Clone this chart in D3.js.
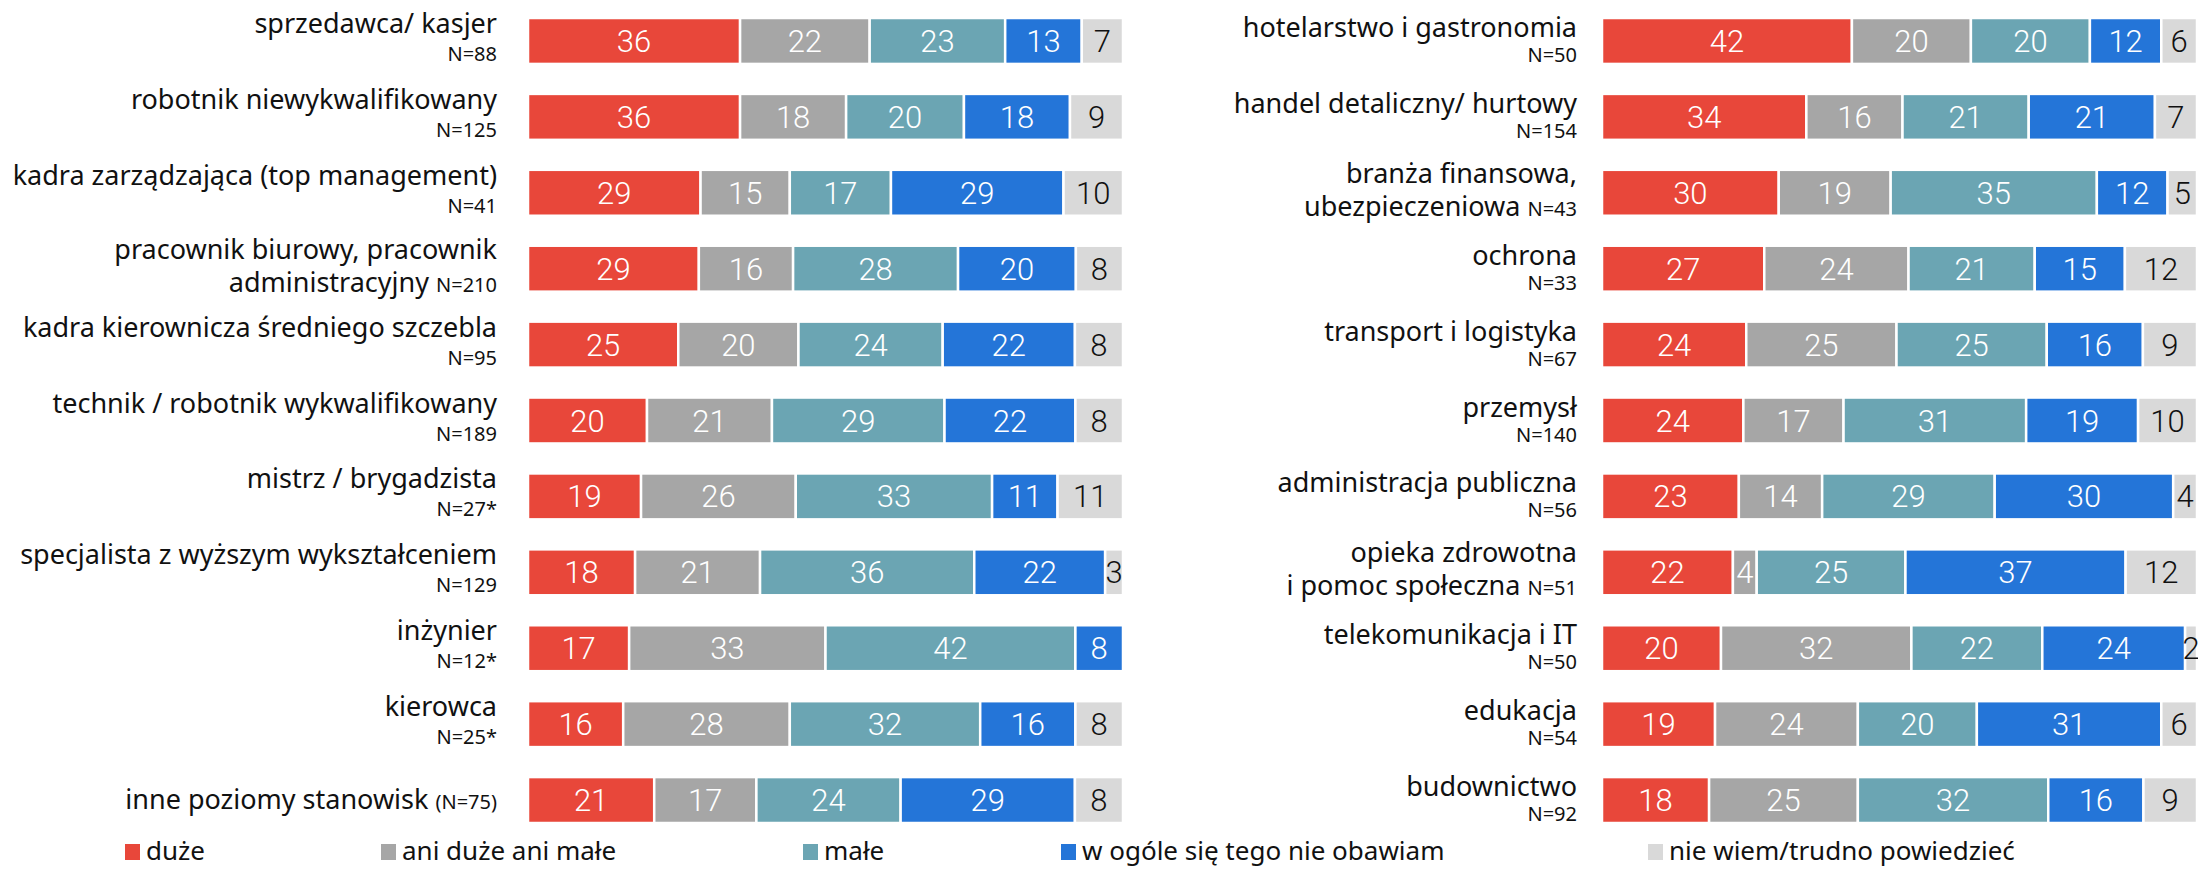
<!DOCTYPE html>
<html>
<head>
<meta charset="utf-8">
<script src="https://cdn.jsdelivr.net/npm/d3@7"></script>
<style>
  body { margin: 0; background: #fff; }
  svg text { font-family: "Noto Sans", sans-serif; }
</style>
</head>
<body>
<div id="chart"></div>
<script>
// series
const seriesKeys = ['duze', 'ani', 'male', 'wogole', 'niewiem'];
const seriesNames = ['duże', 'ani duże ani małe', 'małe', 'w ogóle się tego nie obawiam', 'nie wiem/trudno powiedzieć'];
const seriesColors = ['#e8473a', '#a6a6a6', '#6ba5b3', '#2475d8', '#d9d9d9'];

// left panel: job position
const leftLabels = [
    ['sprzedawca/ kasjer'],
    ['robotnik niewykwalifikowany'],
    ['kadra zarządzająca (top management)'],
    ['pracownik biurowy, pracownik', 'administracyjny'],
    ['kadra kierownicza średniego szczebla'],
    ['technik / robotnik wykwalifikowany'],
    ['mistrz / brygadzista'],
    ['specjalista z wyższym wykształceniem'],
    ['inżynier'],
    ['kierowca'],
    ['inne poziomy stanowisk']
];
const leftN = ['N=88', 'N=125', 'N=41', 'N=210', 'N=95', 'N=189', 'N=27*', 'N=129', 'N=12*', 'N=25*', '(N=75)'];
const leftValues = [
    [36, 22, 23, 13, 7],
    [36, 18, 20, 18, 9],
    [29, 15, 17, 29, 10],
    [29, 16, 28, 20, 8],
    [25, 20, 24, 22, 8],
    [20, 21, 29, 22, 8],
    [19, 26, 33, 11, 11],
    [18, 21, 36, 22, 3],
    [17, 33, 42, 8, 0],
    [16, 28, 32, 16, 8],
    [21, 17, 24, 29, 8]
];

// right panel: industry
const rightLabels = [
    ['hotelarstwo i gastronomia'],
    ['handel detaliczny/ hurtowy'],
    ['branża finansowa,', 'ubezpieczeniowa'],
    ['ochrona'],
    ['transport i logistyka'],
    ['przemysł'],
    ['administracja publiczna'],
    ['opieka zdrowotna', 'i pomoc społeczna'],
    ['telekomunikacja i IT'],
    ['edukacja'],
    ['budownictwo']
];
const rightN = ['N=50', 'N=154', 'N=43', 'N=33', 'N=67', 'N=140', 'N=56', 'N=51', 'N=50', 'N=54', 'N=92'];
const rightValues = [
    [42, 20, 20, 12, 6],
    [34, 16, 21, 21, 7],
    [30, 19, 35, 12, 5],
    [27, 24, 21, 15, 12],
    [24, 25, 25, 16, 9],
    [24, 17, 31, 19, 10],
    [23, 14, 29, 30, 4],
    [22, 4, 25, 37, 12],
    [20, 32, 22, 24, 2],
    [19, 24, 20, 31, 6],
    [18, 25, 32, 16, 9]
];

const W = 2198, H = 869;
const labelSize = '27px', nSize = '20px';

const svg = d3.select('#chart').append('svg')
    .attr('width', W)
    .attr('height', H);

const color = d3.scaleOrdinal().domain(seriesKeys).range(seriesColors);

function drawPanel(labels, ns, values, opts) {
    const rows = values.map((v, i) => {
        const r = { id: i };
        seriesKeys.forEach((k, j) => { r[k] = v[j]; });
        return r;
    });

    const stacked = d3.stack()
        .keys(seriesKeys)
        .offset(d3.stackOffsetExpand)(rows);

    const x = d3.scaleLinear().domain([0, 1]).range([opts.x0, opts.x1]);
    const y = d3.scaleBand()
        .domain(rows.map(d => d.id))
        .range([opts.top, opts.bottom])
        .paddingInner(0.395)
        .paddingOuter(0);

    const g = svg.append('g');

    const layer = g.selectAll('.layer')
        .data(stacked)
        .enter()
        .append('g')
        .attr('class', 'layer')
        .attr('fill', d => color(d.key));

    layer.selectAll('rect')
        .data(d => d.filter(s => s[1] - s[0] > 0))
        .enter()
        .append('rect')
        .attr('x', d => x(d[0]))
        .attr('y', d => y(d.data.id))
        .attr('width', d => x(d[1]) - x(d[0]))
        .attr('height', y.bandwidth())
        .attr('stroke', '#fff')
        .attr('stroke-width', 2.5);

    // value labels
    stacked.forEach((s, si) => {
        g.append('g').selectAll('text')
            .data(s.filter(d => d[1] - d[0] > 0))
            .enter()
            .append('text')
            .attr('x', d => (x(d[0]) + x(d[1])) / 2)
            .attr('y', d => y(d.data.id) + y.bandwidth() / 2 + 11)
            .attr('text-anchor', 'middle')
            .style('font-family', 'Roboto, sans-serif')
            .style('font-weight', 300)
            .style('font-size', '31px')
            .attr('fill', si === 4 ? '#111' : '#fff')
            .text(d => d.data[s.key]);
    });

    // category labels
    rows.forEach((r, i) => {
        const cy = y(r.id) + y.bandwidth() / 2;
        const lines = labels[i];
        const n = ns[i];
        if (n.startsWith('(')) {
            // one line, centred on the bar
            const t = g.append('text')
                .attr('x', opts.labelX)
                .attr('y', cy + 9)
                .attr('text-anchor', 'end')
                .attr('fill', '#111');
            t.append('tspan').style('font-size', labelSize).text(lines[0] + ' ');
            t.append('tspan').style('font-size', nSize).text(n);
        } else if (lines.length > 1) {
            g.append('text')
                .attr('x', opts.labelX)
                .attr('y', cy - 10)
                .attr('text-anchor', 'end')
                .attr('fill', '#111')
                .style('font-size', labelSize)
                .text(lines[0]);
            const t = g.append('text')
                .attr('x', opts.labelX)
                .attr('y', cy + 23)
                .attr('text-anchor', 'end')
                .attr('fill', '#111');
            t.append('tspan').style('font-size', labelSize).text(lines[1] + ' ');
            t.append('tspan').style('font-size', nSize).text(n);
        } else {
            g.append('text')
                .attr('x', opts.labelX)
                .attr('y', cy + opts.line1)
                .attr('text-anchor', 'end')
                .attr('fill', '#111')
                .style('font-size', labelSize)
                .text(lines[0]);
            g.append('text')
                .attr('x', opts.labelX)
                .attr('y', cy + opts.line2)
                .attr('text-anchor', 'end')
                .attr('fill', '#111')
                .style('font-size', nSize)
                .text(n);
        }
    });
}

drawPanel(leftLabels, leftN, leftValues, {
    x0: 528, x1: 1123, top: 18, bottom: 823, labelX: 497, line1: -8, line2: 20
});
drawPanel(rightLabels, rightN, rightValues, {
    x0: 1602, x1: 2197, top: 18, bottom: 823, labelX: 1577, line1: -4, line2: 21
});

// legend
const legendX = [125, 381, 803, 1061, 1648];
const legend = svg.append('g')
    .selectAll('g')
    .data(seriesKeys)
    .enter()
    .append('g')
    .attr('transform', (d, i) => `translate(${legendX[i]},844)`);

legend.append('rect')
    .attr('width', 15)
    .attr('height', 16)
    .attr('fill', d => color(d));

legend.append('text')
    .attr('x', 21)
    .attr('y', 16)
    .attr('fill', '#111')
    .style('font-size', '26px')
    .text((d, i) => seriesNames[i]);
</script>
</body>
</html>
